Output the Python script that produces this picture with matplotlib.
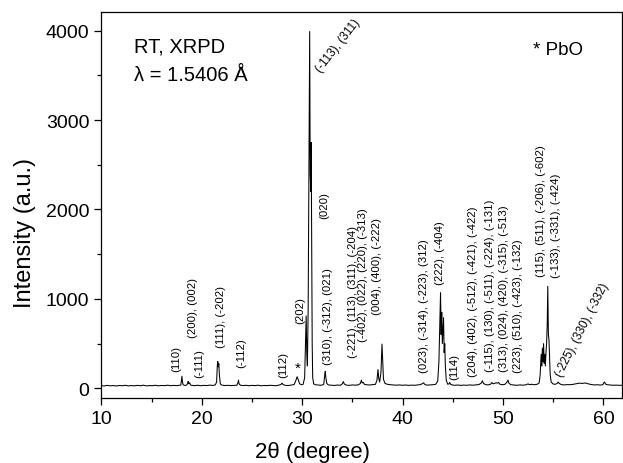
import matplotlib
matplotlib.use("Agg")
import matplotlib.pyplot as plt
from matplotlib.ticker import MultipleLocator

plt.rcParams["font.family"] = ["Liberation Sans", "DejaVu Sans"]

# XRPD trace, 2theta (deg) and intensity (a.u.)
two_theta = [
    10.0, 10.3, 10.6, 10.9, 11.2, 11.5, 11.8, 12.1, 12.4, 12.7, 13.0, 13.3, 13.6, 13.9,
    14.2, 14.5, 14.8, 15.1, 15.4, 15.7, 16.0, 16.3, 16.6, 16.9, 17.2, 17.5, 17.8,
    17.92, 18.0, 18.03, 18.08, 18.15, 18.3, 18.5, 18.6, 18.65, 18.7, 18.75, 18.8, 18.88,
    19.0, 19.3, 19.6, 19.9, 20.2, 20.5, 20.8, 21.1, 21.35, 21.48, 21.55, 21.6, 21.65,
    21.7, 21.76, 21.85, 22.0, 22.3, 22.6, 22.9, 23.2, 23.5, 23.6, 23.66, 23.72, 23.85,
    24.1, 24.4, 24.7, 25.0, 25.3, 25.6, 25.9, 26.2, 26.5, 26.8, 27.1, 27.4, 27.7, 27.9,
    28.0, 28.1, 28.3, 28.6, 28.9, 29.2, 29.4, 29.5, 29.6, 29.75, 29.95, 30.1, 30.25,
    30.35, 30.4, 30.46, 30.52, 30.6, 30.68, 30.75, 30.8, 30.86, 30.9, 30.95, 31.0,
    31.05, 31.15, 31.3, 31.6, 31.9, 32.15, 32.25, 32.3, 32.36, 32.45, 32.6, 32.9, 33.2,
    33.5, 33.8, 34.0, 34.1, 34.2, 34.4, 34.7, 35.0, 35.3, 35.6, 35.8, 35.9, 35.98, 36.1,
    36.2, 36.4, 36.7, 37.0, 37.3, 37.45, 37.55, 37.63, 37.72, 37.85, 37.95, 38.02, 38.1,
    38.25, 38.5, 38.8, 39.1, 39.4, 39.7, 40.0, 40.3, 40.6, 40.9, 41.2, 41.5, 41.8, 42.0,
    42.08, 42.2, 42.4, 42.7, 43.0, 43.3, 43.5, 43.62, 43.7, 43.78, 43.84, 43.9, 43.96,
    44.02, 44.08, 44.14, 44.2, 44.26, 44.35, 44.5, 44.62, 44.7, 44.78, 44.95, 45.2, 45.5,
    45.8, 46.1, 46.4, 46.7, 47.0, 47.3, 47.6, 47.85, 47.95, 48.05, 48.25, 48.5, 48.75,
    48.9, 49.0, 49.15, 49.3, 49.45, 49.55, 49.7, 49.95, 50.2, 50.4, 50.5, 50.6, 50.8,
    51.1, 51.4, 51.7, 52.0, 52.3, 52.5, 52.6, 52.9, 53.1, 53.4, 53.6, 53.7, 53.8, 53.86,
    53.92, 53.98, 54.04, 54.1, 54.16, 54.22, 54.28, 54.34, 54.4, 54.46, 54.52, 54.58,
    54.64, 54.7, 54.8, 55.0, 55.2, 55.4, 55.5, 55.6, 55.8, 56.1, 56.4, 56.7, 57.0, 57.3,
    57.6, 57.9, 58.2, 58.5, 58.8, 59.1, 59.4, 59.7, 59.95, 60.05, 60.12, 60.2, 60.4,
    60.7, 61.0, 61.3, 61.6, 61.9,
]
intensity = [
    30, 27, 33, 28, 31, 26, 32, 29, 34, 27, 31, 28, 33, 29,
    35, 27, 31, 29, 34, 28, 32, 30, 35, 29, 33, 30, 34,
    36, 110, 135, 70, 40, 32, 36, 55, 78, 50, 58, 62, 38,
    33, 30, 35, 29, 33, 31, 36, 32, 38, 70, 250, 300, 240,
    275, 150, 50, 36, 31, 34, 30, 33, 35, 60, 92, 50, 35,
    31, 34, 29, 33, 30, 35, 28, 32, 30, 34, 31, 29, 36, 45,
    58, 42, 34, 31, 36, 42, 95, 130, 100, 50, 40, 45, 120,
    600, 810, 400, 250, 900, 2600, 3990, 2400, 2200, 2750, 1500, 500,
    120, 50, 40, 37, 34, 45, 150, 190, 120, 55, 38, 35, 32,
    37, 34, 50, 75, 48, 36, 33, 38, 35, 39, 55, 92, 60, 66,
    45, 40, 37, 41, 45, 90, 210, 110, 70, 180, 495, 300, 100,
    55, 45, 40, 37, 35, 38, 34, 37, 33, 36, 34, 38, 42, 55,
    62, 45, 36, 38, 40, 45, 80, 300, 700, 1070, 600, 850, 500,
    650, 790, 400, 500, 250, 90, 45, 50, 65, 45, 38, 34, 37,
    33, 36, 34, 38, 35, 39, 42, 60, 85, 55, 42, 38, 45,
    65, 50, 55, 62, 58, 66, 45, 40, 45, 70, 92, 55, 40,
    37, 34, 38, 35, 40, 50, 42, 45, 40, 45, 60, 150, 380, 250,
    450, 300, 500, 280, 380, 250, 400, 500, 700, 1140, 600, 540,
    350, 150, 70, 48, 45, 55, 70, 55, 42, 38, 42, 40, 45, 52,
    58, 55, 60, 50, 42, 38, 40, 36, 42, 65, 70, 48, 40,
    37, 34, 36, 33, 35,
]

# Miller-index labels: text, x, y (bottom of rotated text)
hkl_labels = [
    ("(110)", 17.45, 194),
    ("(-111)", 19.77, 126),
    ("(200), (002)", 19.17, 574),
    ("(111), (-202)", 21.9, 462),
    ("(-112)", 23.96, 238),
    ("(112)", 28.15, 126),
    ("(202)", 29.86, 730),
    ("(020)", 32.25, 1905),
    ("(310), (-312), (021)", 32.6, 272),
    ("(-221), (113), (311), (-204)", 35.02, 350),
    ("(-402), (022), (220), (-313)", 36.05, 529),
    ("(004), (400), (-222)", 37.45, 831),
    ("(023), (-314), (-223), (312)", 42.17, 182),
    ("(222), (-404)", 43.7, 1167),
    ("(114)", 45.1, 104),
    ("(204), (402), (-512), (-421), (-422)", 47.03, 138),
    ("(-115), (130), (-511), (-224), (-131)", 48.75, 194),
    ("(313), (024), (420), (-315), (-513)", 50.08, 194),
    ("(223), (510), (-423), (-132)", 51.48, 182),
    ("(115), (511), (-206), (-602)", 53.74, 1256),
    ("(-133), (-331), (-424)", 55.23, 1245),
]

fig = plt.figure(figsize=(6.23, 4.64), dpi=100)
ax = fig.add_axes([0.1626, 0.1407, 0.8358, 0.8306])

ax.plot(two_theta, intensity, color="black", linewidth=0.75)

for text, x, y in hkl_labels:
    ax.text(x, y, text, rotation=90, ha="center", va="bottom", fontsize=8.2)

ax.text(31.6, 3560, "(-113), (311)", rotation=52, rotation_mode="anchor",
        ha="left", va="center", fontsize=8.5)
ax.text(55.55, 150, "(-225), (330), (-332)", rotation=63, rotation_mode="anchor",
        ha="left", va="center", fontsize=8.5)
ax.text(29.54, 235, "*", ha="center", va="center", fontsize=11)

ax.text(0.063, 0.913, "RT, XRPD", transform=ax.transAxes, fontsize=14.5, va="center")
ax.text(0.063, 0.838, "λ = 1.5406 Å", transform=ax.transAxes, fontsize=14.5, va="center")
ax.text(0.83, 0.903, "* PbO", transform=ax.transAxes, fontsize=13.5, va="center")

ax.set_xlim(10, 61.85)
ax.set_ylim(-105, 4205)
ax.xaxis.set_major_locator(MultipleLocator(10))
ax.xaxis.set_minor_locator(MultipleLocator(5))
ax.yaxis.set_major_locator(MultipleLocator(1000))
ax.yaxis.set_minor_locator(MultipleLocator(500))
ax.tick_params(which="both", direction="out", top=False, right=False, labelsize=14, width=0.9)
ax.tick_params(which="major", length=5)
ax.tick_params(which="minor", length=3)
for sp in ax.spines.values():
    sp.set_linewidth(0.9)

ax.set_xlabel("2θ (degree)", fontsize=16)
ax.set_ylabel("Intensity (a.u.)", fontsize=17)
ax.xaxis.set_label_coords(0.405, -0.112)
ax.yaxis.set_label_coords(-0.125, 0.43)

fig.savefig("out.png", dpi=100)
